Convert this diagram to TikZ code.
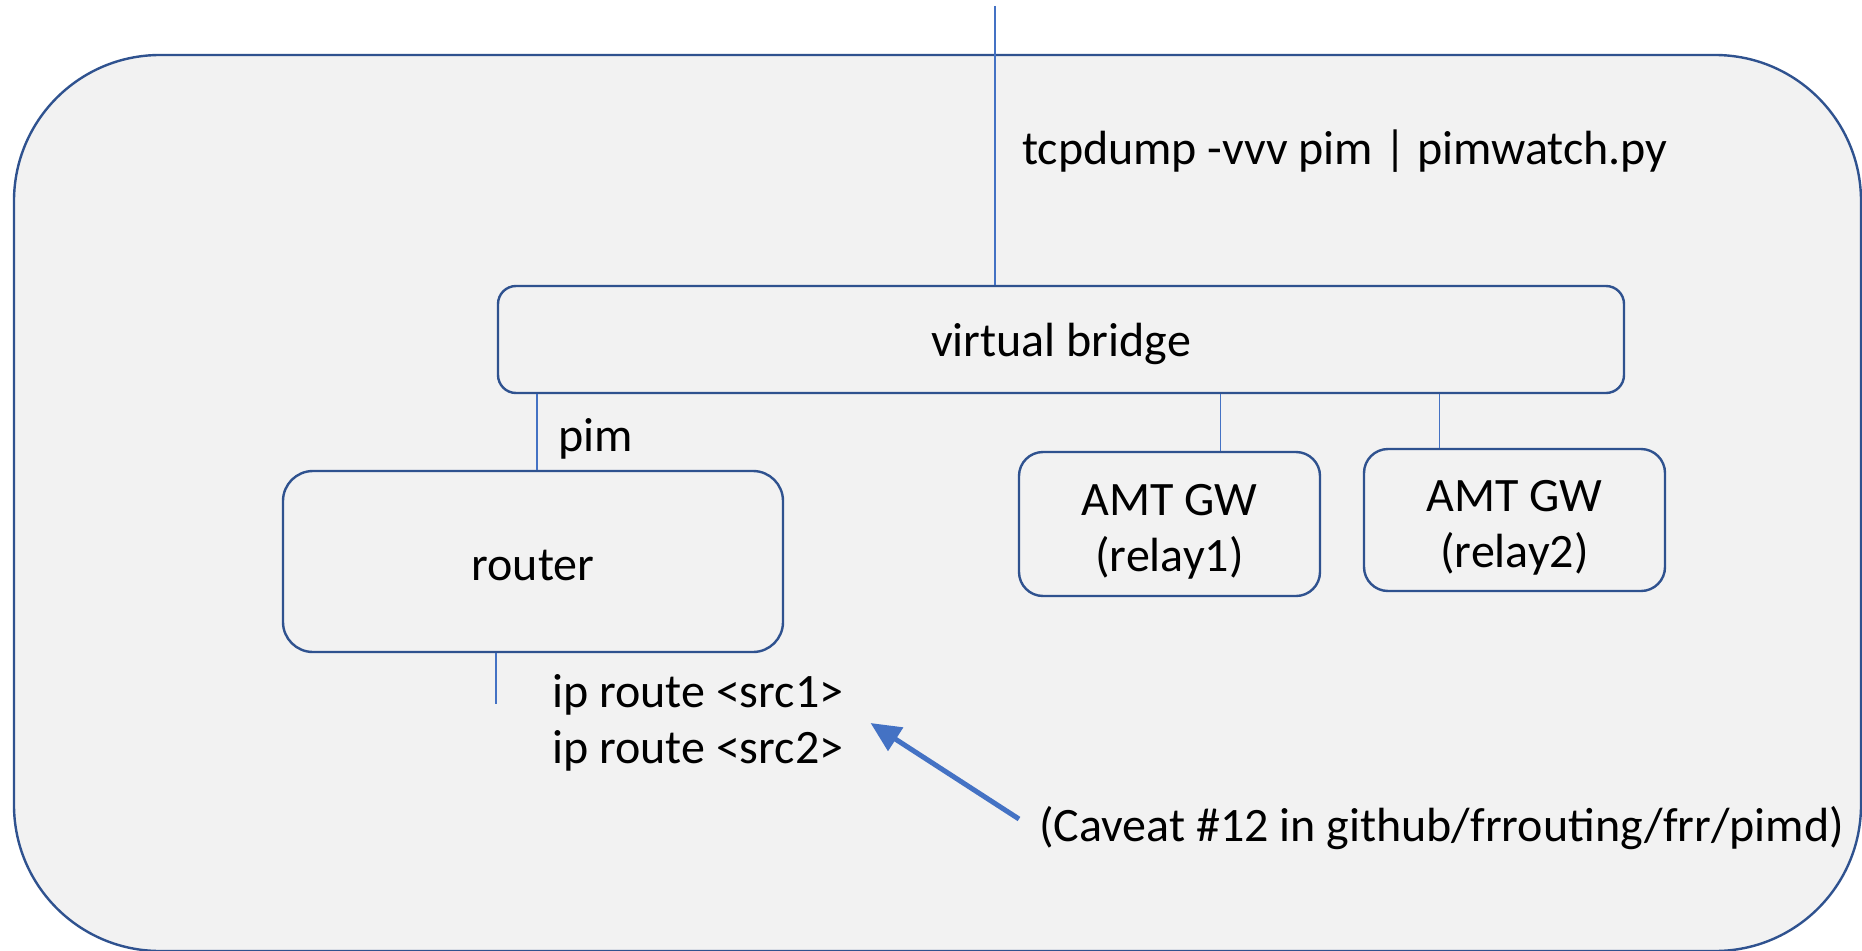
\documentclass[tikz,border=0pt]{standalone}
\usepackage{fontspec}
\setmainfont{Carlito}
\usetikzlibrary{arrows.meta,calc}
\definecolor{boxline}{HTML}{2F528F}
\definecolor{connline}{HTML}{4472C4}
\definecolor{boxfill}{HTML}{F2F2F2}
\tikzset{
  outerbox/.style={draw=boxline, line width=2.4pt, fill=boxfill, rounded corners=146pt},
  devbox/.style={draw=boxline, line width=2.4pt, fill=boxfill, inner sep=0pt, align=center},
  conn/.style={draw=connline, line width=1.6pt},
  lbl/.style={inner sep=0pt, anchor=west, align=left},
  arr/.style={draw=connline, line width=5pt, -{Triangle[length=30pt,width=27pt]}}
}
\begin{document}
\begin{tikzpicture}[x=1pt,y=-1pt,font=\fontsize{48}{56}\selectfont]
\useasboundingbox (0,0) rectangle (1862,950);
\fill[white] (0,0) rectangle (1862,950);
\draw[outerbox] (14,55) rectangle (1861,951);

\node[devbox, rounded corners=18pt, minimum width=1126pt, minimum height=107pt, text height=44pt, text depth=10pt] (bridge) at (1061,339.5) {virtual bridge};
\node[devbox, rounded corners=30pt, minimum width=500pt, minimum height=181pt, text height=46pt, text depth=8pt] (router) at (533,561.5) {router};
\node[devbox, rounded corners=24pt, minimum width=301pt, minimum height=144pt] (relay1) at (1169.5,524) {\rule{0pt}{47pt}AMT GW\\(relay1)};
\node[devbox, rounded corners=24pt, minimum width=301pt, minimum height=142pt] (relay2) at (1514.5,520) {\rule{0pt}{47pt}AMT GW\\(relay2)};

\coordinate (top) at (995,6);
\coordinate (rbot) at (496,704);

\node[lbl] (tcp) at (1022,151) {tcpdump -vvv pim | pimwatch.py};
\node[lbl] (pim) at (558,439) {pim};
\node[lbl] (iproute) at (552,723) {ip route <src1>\\ip route <src2>};
\node[lbl] (caveat) at (1039,828) {(Caveat \#12 in github/frrouting/frr/pimd)};

\draw[conn] (top) -- (top |- bridge.north);
\draw[conn] ([xshift=4pt]router.north) -- ([xshift=4pt]router.north |- bridge.south);
\draw[conn] ([xshift=51pt]relay1.north) -- ([xshift=51pt]relay1.north |- bridge.south);
\draw[conn] ([xshift=-75pt]relay2.north) -- ([xshift=-75pt]relay2.north |- bridge.south);
\draw[conn] (rbot |- router.south) -- (rbot);

\draw[arr] ([shift={(-20,-9)}]caveat.west) -- ([xshift=27pt]iproute.east);
\end{tikzpicture}
\end{document}
